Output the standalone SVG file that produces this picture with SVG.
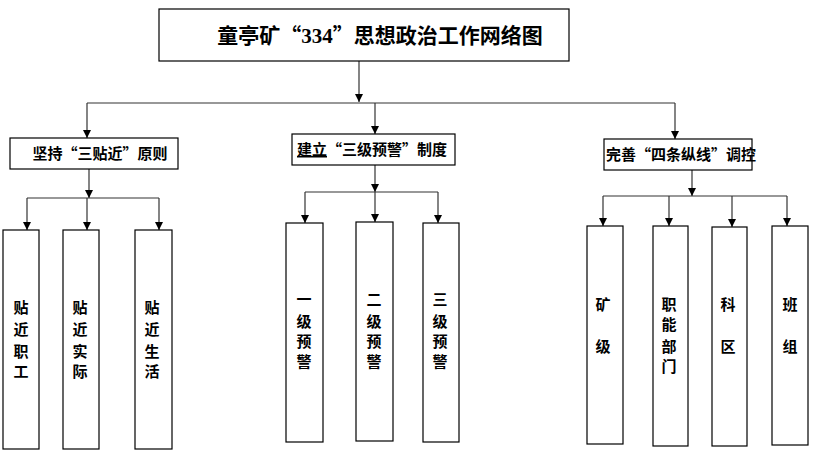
<svg xmlns="http://www.w3.org/2000/svg" width="814" height="464" viewBox="0 0 814 464">
<defs>
<marker id="ah" viewBox="0 0 8 8" refX="8" refY="4" markerWidth="8" markerHeight="8" markerUnits="userSpaceOnUse" orient="auto">
<path d="M0,0 L8,4 L0,8 z" fill="#000"/>
</marker>
<style>
.box{fill:#fff;stroke:#000;stroke-width:1.2}
.ln{fill:none;stroke:#333;stroke-width:1.2}
.ar{fill:none;stroke:#333;stroke-width:1.2;marker-end:url(#ah)}
.t{font-family:"Noto Sans CJK SC","Liberation Serif",sans-serif;font-weight:bold;fill:#000}
.d{font-family:"Liberation Serif",serif}
.h{font-size:15px;text-anchor:middle}
.v{font-size:15px;text-anchor:middle}
</style>
</defs>
<rect width="814" height="464" fill="#fff"/>
<g id="connectors">
<line class="ar" x1="359" y1="61" x2="359" y2="102"/>
<line class="ln" x1="87" y1="103" x2="675" y2="103"/>
<line class="ar" x1="87" y1="103" x2="87" y2="138"/>
<line class="ar" x1="375" y1="103" x2="375" y2="134"/>
<line class="ar" x1="675" y1="103" x2="675" y2="139"/>
<line class="ar" x1="89" y1="169" x2="89" y2="198"/>
<line class="ln" x1="27" y1="198" x2="159" y2="198"/>
<line class="ar" x1="27" y1="198" x2="27" y2="230"/>
<line class="ar" x1="87" y1="198" x2="87" y2="230"/>
<line class="ar" x1="159" y1="198" x2="159" y2="230"/>
<line class="ar" x1="375" y1="165" x2="375" y2="192"/>
<line class="ln" x1="305" y1="192" x2="438" y2="192"/>
<line class="ar" x1="305" y1="192" x2="305" y2="223"/>
<line class="ar" x1="375" y1="192" x2="375" y2="222"/>
<line class="ar" x1="438" y1="192" x2="438" y2="223"/>
<line class="ar" x1="692" y1="170" x2="692" y2="196"/>
<line class="ln" x1="603" y1="196" x2="787" y2="196"/>
<line class="ar" x1="603" y1="196" x2="603" y2="226"/>
<line class="ar" x1="669" y1="196" x2="669" y2="226"/>
<line class="ar" x1="732" y1="196" x2="732" y2="227"/>
<line class="ar" x1="787" y1="196" x2="787" y2="226"/>
</g>
<g id="title">
<rect class="box" x="159" y="9" width="410" height="52"/>
<text class="t" x="380" y="43" font-size="21" text-anchor="middle">童亭矿“<tspan class="d">334</tspan>”思想政治工作网络图</text>
</g>
<g id="n1">
<rect class="box" x="10" y="138" width="168" height="31"/>
<text class="t h" x="100" y="159">坚持“三贴近”原则</text>
</g>
<g id="n2">
<rect class="box" x="292" y="134" width="163" height="31"/>
<text class="t h" x="372" y="155"><tspan text-decoration="underline">建立</tspan>“三级预警”制度</text>
</g>
<g id="n3">
<rect class="box" x="604" y="139" width="148" height="31"/>
<text class="t h" x="681" y="160">完善“四条纵线”调控</text>
</g>
<g id="n1a">
<rect class="box" x="3" y="230" width="36" height="219"/>
<text class="t v"><tspan x="21" y="313">贴</tspan><tspan x="21" y="335">近</tspan><tspan x="21" y="357">职</tspan><tspan x="21" y="377">工</tspan></text>
</g>
<g id="n1b">
<rect class="box" x="63" y="230" width="36" height="219"/>
<text class="t v"><tspan x="80" y="313">贴</tspan><tspan x="80" y="335">近</tspan><tspan x="80" y="357">实</tspan><tspan x="80" y="377">际</tspan></text>
</g>
<g id="n1c">
<rect class="box" x="135" y="230" width="37" height="219"/>
<text class="t v"><tspan x="152" y="313">贴</tspan><tspan x="152" y="335">近</tspan><tspan x="152" y="357">生</tspan><tspan x="152" y="377">活</tspan></text>
</g>
<g id="n2a">
<rect class="box" x="286" y="223" width="37" height="219"/>
<text class="t v"><tspan x="304" y="305">一</tspan><tspan x="304" y="327">级</tspan><tspan x="304" y="347">预</tspan><tspan x="304" y="367">警</tspan></text>
</g>
<g id="n2b">
<rect class="box" x="356" y="222" width="37" height="219"/>
<text class="t v"><tspan x="374" y="305">二</tspan><tspan x="374" y="327">级</tspan><tspan x="374" y="347">预</tspan><tspan x="374" y="367">警</tspan></text>
</g>
<g id="n2c">
<rect class="box" x="423" y="223" width="36" height="219"/>
<text class="t v"><tspan x="440" y="305">三</tspan><tspan x="440" y="327">级</tspan><tspan x="440" y="347">预</tspan><tspan x="440" y="367">警</tspan></text>
</g>
<g id="n3a">
<rect class="box" x="587" y="226" width="36" height="218"/>
<text class="t v"><tspan x="603" y="310">矿</tspan><tspan x="603" y="352">级</tspan></text>
</g>
<g id="n3b">
<rect class="box" x="653" y="226" width="35" height="220"/>
<text class="t v"><tspan x="669" y="310">职</tspan><tspan x="669" y="330">能</tspan><tspan x="669" y="352">部</tspan><tspan x="669" y="372">门</tspan></text>
</g>
<g id="n3c">
<rect class="box" x="712" y="227" width="35" height="219"/>
<text class="t v"><tspan x="728" y="310">科</tspan><tspan x="728" y="352">区</tspan></text>
</g>
<g id="n3d">
<rect class="box" x="772" y="226" width="36" height="219"/>
<text class="t v"><tspan x="790" y="310">班</tspan><tspan x="790" y="352">组</tspan></text>
</g>
</svg>
